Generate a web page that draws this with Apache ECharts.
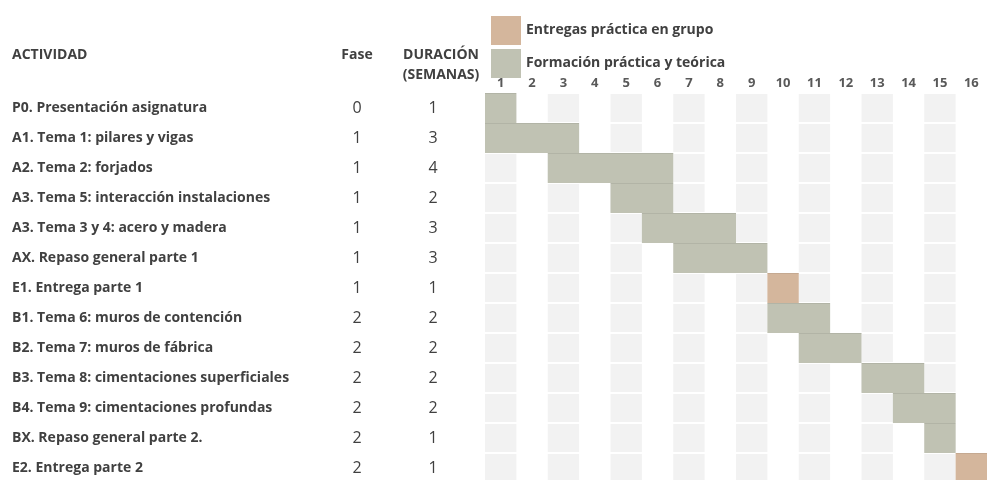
<!DOCTYPE html>
<html><head><meta charset="utf-8">
<script src="https://cdn.jsdelivr.net/npm/echarts@6/dist/echarts.min.js"></script>
<style>html,body{margin:0;padding:0;background:#fff}#c{width:987px;height:480px}</style>
</head><body><div id="c"></div>
<script>
const activities = [
  'P0. Presentación asignatura',
  'A1. Tema 1: pilares y vigas',
  'A2. Tema 2: forjados',
  'A3. Tema 5: interacción instalaciones',
  'A3. Tema 3 y 4: acero y madera',
  'AX. Repaso general parte 1',
  'E1. Entrega parte 1',
  'B1. Tema 6: muros de contención',
  'B2. Tema 7: muros de fábrica',
  'B3. Tema 8: cimentaciones superficiales',
  'B4. Tema 9: cimentaciones profundas',
  'BX. Repaso general parte 2.',
  'E2. Entrega parte 2'
];
const phases = [0, 1, 1, 1, 1, 1, 1, 2, 2, 2, 2, 2, 2];
const durations = [1, 3, 4, 2, 3, 3, 1, 2, 2, 2, 2, 1, 1];
const startWeeks = [1, 1, 3, 5, 6, 7, 10, 10, 11, 13, 14, 15, 16];
const taskTypes = ['F','F','F','F','F','F','E','F','F','F','F','F','E'];
const weeks = ['1','2','3','4','5','6','7','8','9','10','11','12','13','14','15','16'];
const seriesNames = ['Entregas práctica en grupo', 'Formación práctica y teórica'];
const colors = { E: '#d4b69c', F: '#c0c2b3' };

const FONT = '"Open Sans", sans-serif';
const TXT = '#404040';

const cellData = [];
activities.forEach((a, r) => {
  weeks.forEach((w, c) => { if (c % 2 === 0) cellData.push([c, r]); });
});
const taskE = [], taskF = [];
activities.forEach((a, r) => {
  const d = [startWeeks[r] - 1, r, durations[r]];
  (taskTypes[r] === 'E' ? taskE : taskF).push(d);
});

function cellRender(params, api) {
  const p = api.coord([api.value(0), api.value(1)]);
  const s = api.size([1, 1]);
  return { type: 'rect', shape: { x: p[0], y: p[1] - s[1] / 2 + 1, width: s[0], height: s[1] - 2 },
    style: { fill: '#f2f2f2' }, silent: true };
}
function taskRender(params, api) {
  const p = api.coord([api.value(0), api.value(1)]);
  const e = api.coord([api.value(0) + api.value(2), api.value(1)]);
  const s = api.size([1, 1]);
  const y = p[1] - s[1] / 2;
  return { type: 'group', children: [
    { type: 'rect', shape: { x: p[0], y: y, width: e[0] - p[0], height: s[1] }, style: { fill: api.visual('color') } },
    { type: 'rect', shape: { x: p[0], y: y, width: e[0] - p[0], height: 1 }, style: { fill: 'rgba(0,0,0,0.07)' } }
  ]};
}

const chart = echarts.init(document.getElementById('c'));
const yBase = {
  type: 'category', inverse: true, data: activities, gridIndex: 0, position: 'left', offset: 0,
  axisLine: { show: false }, axisTick: { show: false }, splitLine: { show: false }
};
chart.setOption({
  animation: false,
  backgroundColor: '#fff',
  grid: { left: 485, right: 0, top: 93, height: 390, containLabel: false, outerBoundsMode: 'none' },
  legend: {
    orient: 'vertical', left: 486, top: 11, itemWidth: 30, itemHeight: 29, itemGap: 4,
    icon: 'rect', data: seriesNames,
    textStyle: { fontFamily: FONT, fontWeight: 'bold', fontSize: 14, color: TXT, padding: [4, 0, 0, 0] },
    selectedMode: false
  },
  xAxis: [
    { type: 'value', min: 0, max: 16, interval: 1, show: false },
    { type: 'category', data: weeks, position: 'top', boundaryGap: true,
      axisLine: { show: false }, axisTick: { show: false }, splitLine: { show: false },
      axisLabel: { margin: 3, fontFamily: FONT, fontWeight: 'bold', fontSize: 13, color: '#595959', interval: 0 } }
  ],
  yAxis: [
    Object.assign({}, yBase, { axisLabel: { interval: 0, align: 'left', margin: 473, fontFamily: FONT, fontWeight: 'bold', fontSize: 14, color: TXT, padding: [5, 0, 0, 0] } }),
    Object.assign({}, yBase, { axisLabel: { interval: 0, align: 'center', margin: 128, fontFamily: FONT, fontSize: 16, color: TXT, padding: [6, 0, 0, 0],
      formatter: (v, i) => String(phases[i]) } }),
    Object.assign({}, yBase, { axisLabel: { interval: 0, align: 'center', margin: 52, fontFamily: FONT, fontSize: 16, color: TXT, padding: [6, 0, 0, 0],
      formatter: (v, i) => String(durations[i]) } })
  ],
  graphic: [
    { type: 'text', x: 12, y: 55, style: { text: 'ACTIVIDAD', font: 'bold 14px ' + FONT, fill: TXT, verticalAlign: 'middle' } },
    { type: 'text', x: 357, y: 55, style: { text: 'Fase', font: 'bold 14px ' + FONT, fill: TXT, align: 'center', verticalAlign: 'middle' } },
    { type: 'text', x: 441, y: 55, style: { text: 'DURACIÓN', font: 'bold 14px ' + FONT, fill: TXT, align: 'center', verticalAlign: 'middle' } },
    { type: 'text', x: 441, y: 75, style: { text: '(SEMANAS)', font: 'bold 14px ' + FONT, fill: TXT, align: 'center', verticalAlign: 'middle' } }
  ],
  series: [
    { type: 'custom', name: 'cells', xAxisIndex: 0, yAxisIndex: 0, renderItem: cellRender, data: cellData, silent: true, z: 1 },
    { type: 'custom', name: seriesNames[0], xAxisIndex: 0, yAxisIndex: 0, renderItem: taskRender, data: taskE,
      itemStyle: { color: colors.E }, encode: { x: [0], y: 1 }, z: 2 },
    { type: 'custom', name: seriesNames[1], xAxisIndex: 0, yAxisIndex: 0, renderItem: taskRender, data: taskF,
      itemStyle: { color: colors.F }, encode: { x: [0], y: 1 }, z: 2 }
  ]
});
</script></body></html>
